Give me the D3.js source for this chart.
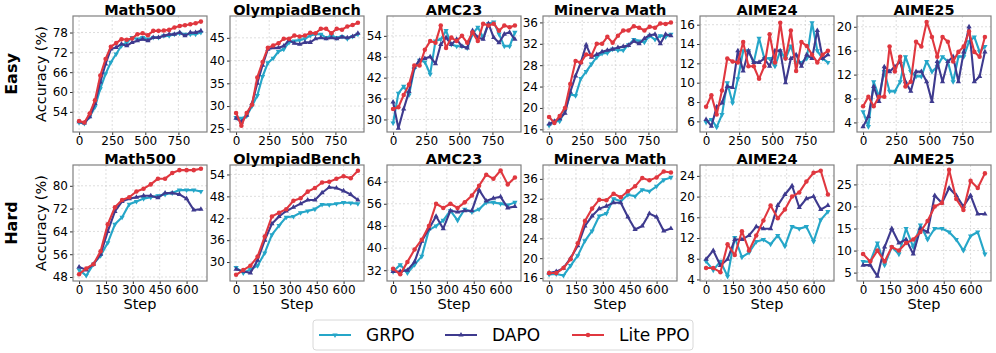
<!DOCTYPE html>
<html>
<head>
<meta charset="utf-8">
<script src="https://cdn.jsdelivr.net/npm/d3@7/dist/d3.min.js"></script>
<style>
  body { margin: 0; background: #fff; }
  text { font-family: "DejaVu Sans", sans-serif; }
</style>
</head>
<body>
<div id="chart"></div>
<script>
// categories / steps
var benchmarks = ["Math500", "OlympiadBench", "AMC23", "Minerva Math", "AIME24", "AIME25"];
var methods = ["GRPO", "DAPO", "Lite PPO"];
var rowNames = ["Easy", "Hard"];
var easySteps = [0,40,80,120,160,200,240,280,320,360,400,440,480,520,560,600,640,680,720,760,800,840,880,920];
var hardSteps = [0,40,80,120,160,200,240,280,320,360,400,440,480,520,560,600,640,680];
var easyXTicks = [0, 250, 500, 750];
var hardXTicks = [0, 150, 300, 450, 600];

// ---- Easy row ----
var easyMath500Grpo = [50.8,50.5,52.5,55.5,61,65.5,69,71.5,74,75,76.5,76,76.5,76,76.5,76.5,77,77,77.5,77.8,77.5,77.5,77.5,78];
var easyMath500Dapo = [51,50.6,52.5,56.5,63,68.5,73,73.5,74.5,74,75,75.5,76,75.5,76.5,76.5,77,77.5,77.5,78,77,78,78,78.5];
var easyMath500Lite = [51.2,50.8,53.5,57.5,65,70,73.7,74.8,76,75.8,76.2,77.5,77.8,77.2,78.5,78.5,78.6,78.8,79.5,80,80.2,80.5,80.8,81.3];
var easyMath500Ticks = [54, 60, 66, 72, 78];

var easyOlyGrpo = [27.5,27.3,27.8,30,32.3,36.5,39.5,40.5,42,42.5,44,44.3,44.5,44.8,45.5,45.8,45.8,45,45.5,45,45.3,44.8,45.3,45.8];
var easyOlyDapo = [27.3,26.5,28,30.5,35,39,42.5,42.8,42.8,43.2,44.5,43.8,43.6,44,44,44.8,45,44.8,45,44.8,45.2,45,45.3,46];
var easyOlyLite = [28.5,25.7,28.5,30.3,36.3,39.7,42.8,43.3,43.8,44.8,44.8,45.5,45.3,45.5,46.1,46,47,47,46,47,46.8,47.5,47.8,48.3];
var easyOlyTicks = [25, 30, 35, 40, 45];

var easyAmcGrpo = [29,37.5,39.5,37,44.5,47,46.5,43,52.5,53,55.5,51.5,51,51,50.5,54.5,56.5,53.5,57.5,58,54.5,51,51,55];
var easyAmcDapo = [35,27.5,33,38,45,47,47.5,48,46,51.5,53.5,51.5,53,51,50.5,55.5,53.5,53,57.5,53.5,52,54.5,55,53];
var easyAmcLite = [33,33.5,37,40,45.5,45.5,50,52.5,52,57,50.5,53.5,52.5,54,52,55,52.5,57.5,57,57.5,55.5,57,56.5,57];
var easyAmcTicks = [30, 36, 42, 48, 54];

var easyMinGrpo = [16.7,17.5,17.5,19.5,22.5,22.3,25.5,26.8,28.2,29.5,30.2,30.3,31,30.8,30.8,31.8,32.8,32.5,32.3,33.5,32.8,33.5,33.3,33.8];
var easyMinDapo = [17,17.5,18,19,23,26,28.5,31.8,29.5,30,30.5,30.8,31,31.3,31.5,31.7,32.5,32,33,33.6,33.8,32,33.8,33.5];
var easyMinLite = [18.3,17.2,18.5,20,24.5,28.8,28.5,30,29.8,32,32,33.3,32.2,33.5,34.5,34.5,35.3,35,34.5,35.2,35,35.8,35.7,36];
var easyMinTicks = [16, 20, 24, 28, 32, 36];

var easyA24Grpo = [5.9,6.2,5.4,6.7,10,7.9,10.4,13.3,13.3,12.1,14.6,12.5,12.5,11.7,13.3,12.5,13.8,12.1,12.1,12.5,16.2,13.3,12.5,12.1];
var easyA24Dapo = [6.2,5.5,7.5,7.9,9.6,9.5,13.3,11.2,13.3,12.1,12.1,12.5,11.7,13.3,13.3,10,12.5,12.9,11.7,12.9,12.5,15.4,12.5,12.9];
var easyA24Lite = [7.5,8.7,6.7,9.2,12.5,12.2,12.1,14.2,11.7,11.7,10.4,11.7,15,12.1,16.2,12.5,15.4,11.2,14.2,13.8,12.9,12.1,12.9,13.3];
var easyA24Ticks = [6, 8, 10, 12, 14, 16];

var easyA25Grpo = [5.8,3.3,10.8,8.3,12.5,9.2,9.2,10.8,15,12.5,11.7,11.7,14.2,12.5,13.3,15,14.2,10.8,15,15,17.5,18.3,15.8,16.7];
var easyA25Dapo = [3.3,5,10,7.5,13.3,12.5,13.3,14.2,10.8,9.2,12.5,12.5,10.8,7.5,14.2,10.8,14.2,15,10.8,15.8,20,10.8,11.7,15.8];
var easyA25Lite = [6.7,8.3,6.7,8.3,8.3,16.7,12.5,15,10,10.8,17.5,16.7,20.8,18.3,15,18.3,17.5,14.2,15.8,16.7,19.2,15.8,15,18.3];
var easyA25Ticks = [4, 8, 12, 16, 20];

// ---- Hard row ----
var hardMath500Grpo = [50.5,48.5,52.5,55.5,60,66.5,69,73.5,74.5,75.5,76,76.5,77,77.5,78.5,78.5,78.5,78];
var hardMath500Dapo = [51.5,50.5,52.5,56,64,71,74.5,75.5,76,76.5,76.5,75.8,77.5,77.5,77,75.5,71.5,71.8];
var hardMath500Lite = [49,51,52.5,57,66.5,72.5,75,76,78,79,80.5,82.5,82.5,84.5,85.5,85.5,85.5,86];
var hardMath500Ticks = [48, 56, 64, 72, 80];

var hardOlyGrpo = [28.5,27,28,29,32.5,37.5,40,42.3,42.5,43.5,44,44.5,45.8,45.7,46,46.3,46.2,46];
var hardOlyDapo = [28,27.5,27,30.5,36,40.5,42.5,44,45,46,47,47,49,50.5,50.3,49.5,48.5,47];
var hardOlyLite = [26.5,27.8,29,31.5,37,42.5,43.5,44.5,46.8,47.5,49.3,50.3,51.8,52,52.8,53.5,53,55];
var hardOlyTicks = [30, 36, 42, 48, 54];

var hardAmcGrpo = [31.5,34,31,34,37,46.5,48,50,53.5,50,54,53,54,56.5,56.5,56,55.5,56.5];
var hardAmcDapo = [31.5,31.5,32,35,42.5,47,51.5,47,53.5,53,53.5,53.5,61,57,58,58.5,54.5,55];
var hardAmcLite = [32.5,30.5,35,39.5,43,48,56,54.5,56,54.5,56.5,59,62.5,66.5,65,68,63,65.5];
var hardAmcTicks = [32, 40, 48, 56, 64];

var hardMinGrpo = [16.7,16.8,16.5,18.5,20.5,23.5,25.5,28.5,29,32,31.5,32.8,32.5,33.8,33.5,34.5,35.8,36.3];
var hardMinDapo = [17,17.3,18,20,22.5,26.5,28.5,30,30.5,31.2,31.2,28.3,25.8,26.5,29,28.3,25.5,26];
var hardMinLite = [17,17,18,19.8,23,27.5,30,31.8,31.7,33,32.3,33.5,34.5,36.2,35.7,36.3,37.5,37.3];
var hardMinTicks = [16, 20, 24, 28, 32, 36];

var hardA24Grpo = [7.5,5.8,7.5,4.6,12.1,8.3,9.2,11.3,11.7,10.8,12.5,10.4,14.2,13.8,14.2,11.3,15.5,17.1];
var hardA24Dapo = [7.9,9.6,6.7,7.9,11.7,11.7,12.5,14.2,13.8,13.8,18.3,20.4,22.1,17.9,19.6,20,17.5,18.3];
var hardA24Lite = [6.2,6.2,5.4,10.8,8.7,13.3,9.6,12.5,15.4,18.3,15.8,17.5,20,20.8,22.9,24.6,25,20.4];
var hardA24Ticks = [4, 8, 12, 16, 20, 24];

var hardA25Grpo = [7.5,7.5,11.7,6.7,10.8,9.2,15,10.8,15.8,12.5,15,15,14.2,12.5,10,13.3,14.2,9.2];
var hardA25Dapo = [6.7,6.7,4.2,10.8,15,11.7,12.5,9.2,15,14.2,22.5,20.8,24.2,22.5,20,22.5,18.3,18.3];
var hardA25Lite = [9.2,7.5,10,7.5,10.8,10,11.7,12.5,14.2,16.7,20,20.8,28.3,21.7,19.2,25.8,24.2,27.5];
var hardA25Ticks = [5, 10, 15, 20, 25];

// panel table built from the arrays above
var panels = [
  {row:0, col:0, series:[easyMath500Grpo, easyMath500Dapo, easyMath500Lite], ticks:easyMath500Ticks, ydom:[47.9, 83]},
  {row:0, col:1, series:[easyOlyGrpo, easyOlyDapo, easyOlyLite], ticks:easyOlyTicks, ydom:[24.3, 49.8]},
  {row:0, col:2, series:[easyAmcGrpo, easyAmcDapo, easyAmcLite], ticks:easyAmcTicks, ydom:[26.4, 59.7]},
  {row:0, col:3, series:[easyMinGrpo, easyMinDapo, easyMinLite], ticks:easyMinTicks, ydom:[15.5, 37.2]},
  {row:0, col:4, series:[easyA24Grpo, easyA24Dapo, easyA24Lite], ticks:easyA24Ticks, ydom:[4.9, 16.9]},
  {row:0, col:5, series:[easyA25Grpo, easyA25Dapo, easyA25Lite], ticks:easyA25Ticks, ydom:[2.4, 21.8]},
  {row:1, col:0, series:[hardMath500Grpo, hardMath500Dapo, hardMath500Lite], ticks:hardMath500Ticks, ydom:[46.6, 87.3]},
  {row:1, col:1, series:[hardOlyGrpo, hardOlyDapo, hardOlyLite], ticks:hardOlyTicks, ydom:[24.8, 56.6]},
  {row:1, col:2, series:[hardAmcGrpo, hardAmcDapo, hardAmcLite], ticks:hardAmcTicks, ydom:[28.1, 70]},
  {row:1, col:3, series:[hardMinGrpo, hardMinDapo, hardMinLite], ticks:hardMinTicks, ydom:[15.4, 38.8]},
  {row:1, col:4, series:[hardA24Grpo, hardA24Dapo, hardA24Lite], ticks:hardA24Ticks, ydom:[3.7, 26.1]},
  {row:1, col:5, series:[hardA25Grpo, hardA25Dapo, hardA25Lite], ticks:hardA25Ticks, ydom:[3.1, 29.4]}
];

var colors = ["#25a6c8", "#3e3a8e", "#e0373f"];
var width = 996, height = 353;
var lefts = [73, 230, 387, 543, 700, 857];
var tops = [16, 165];
var pw = 134, ph = 116;

var svg = d3.select("#chart").append("svg")
  .attr("width", width).attr("height", height);
svg.append("rect").attr("width", width).attr("height", height).attr("fill", "#fff");

function marker(i) {
  if (i == 2) return d3.symbol().type(d3.symbolCircle).size(16);
  return d3.symbol().type(d3.symbolTriangle).size(12);
}

panels.forEach(function(p) {
  var steps = p.row == 0 ? easySteps : hardSteps;
  var xt = p.row == 0 ? easyXTicks : hardXTicks;
  var xmax = steps[steps.length - 1];
  var x = d3.scaleLinear().domain([-0.05 * xmax, 1.05 * xmax]).range([0, pw]);
  var y = d3.scaleLinear().domain(p.ydom).range([ph, 0]);

  var g = svg.append("g")
    .attr("transform", "translate(" + lefts[p.col] + "," + tops[p.row] + ")");

  // grid
  g.append("g").selectAll("line").data(xt).enter().append("line")
    .attr("x1", function(d) { return x(d); }).attr("x2", function(d) { return x(d); })
    .attr("y1", 0).attr("y2", ph)
    .attr("stroke", "#d0d0d0").attr("stroke-width", 0.7).attr("stroke-dasharray", "2,2");
  g.append("g").selectAll("line").data(p.ticks).enter().append("line")
    .attr("y1", function(d) { return y(d); }).attr("y2", function(d) { return y(d); })
    .attr("x1", 0).attr("x2", pw)
    .attr("stroke", "#d0d0d0").attr("stroke-width", 0.7).attr("stroke-dasharray", "2,2");

  // axes
  var ax = g.append("g").attr("transform", "translate(0," + ph + ")")
    .call(d3.axisBottom(x).tickValues(xt).tickSize(3).tickPadding(1.5));
  var ay = g.append("g")
    .call(d3.axisLeft(y).tickValues(p.ticks).tickSize(3).tickPadding(2));
  [ax, ay].forEach(function(a) {
    a.select(".domain").remove();
    a.selectAll("line").attr("stroke", "#333");
    a.selectAll("text").attr("font-size", "12px").attr("fill", "#000")
      .attr("font-family", "DejaVu Sans, sans-serif");
  });

  // lines + markers
  p.series.forEach(function(vals, i) {
    var pts = steps.map(function(s, k) { return [s, vals[k]]; });
    g.append("path").datum(pts)
      .attr("fill", "none").attr("stroke", colors[i]).attr("stroke-width", 2.1)
      .attr("stroke-linejoin", "round")
      .attr("d", d3.line().x(function(d) { return x(d[0]); }).y(function(d) { return y(d[1]); }));
    g.append("g").selectAll("path").data(pts).enter().append("path")
      .attr("d", marker(i))
      .attr("fill", colors[i])
      .attr("transform", function(d) {
        return "translate(" + x(d[0]) + "," + y(d[1]) + ")" + (i == 0 ? " rotate(180)" : "");
      });
  });

  // frame
  g.append("rect").attr("width", pw).attr("height", ph)
    .attr("fill", "none").attr("stroke", "#808080").attr("stroke-width", 1.2);

  // title
  g.append("text").attr("x", pw / 2).attr("y", -1.5)
    .attr("text-anchor", "middle").attr("font-size", "14.5px").attr("font-weight", "bold")
    .text(benchmarks[p.col]);

  if (p.col == 0) {
    g.append("text")
      .attr("transform", "translate(-27," + (ph / 2) + ") rotate(-90)")
      .attr("text-anchor", "middle").attr("font-size", "14.5px")
      .text("Accuracy (%)");
    g.append("text")
      .attr("transform", "translate(-56," + (ph / 2) + ") rotate(-90)")
      .attr("text-anchor", "middle").attr("font-size", "16px").attr("font-weight", "bold")
      .text(rowNames[p.row]);
  }
  if (p.row == 1) {
    g.append("text").attr("x", pw / 2).attr("y", ph + 27.5)
      .attr("text-anchor", "middle").attr("font-size", "14.5px")
      .text("Step");
  }
});

// legend
var lg = svg.append("g").attr("transform", "translate(313,320)");
lg.append("rect").attr("width", 380).attr("height", 30).attr("rx", 3)
  .attr("fill", "#fff").attr("stroke", "#d8d8d8");
var lx = [6, 132, 259];
methods.forEach(function(m, i) {
  var e = lg.append("g").attr("transform", "translate(" + lx[i] + ",15)");
  e.append("line").attr("x1", 0).attr("x2", 32).attr("stroke", colors[i]).attr("stroke-width", 2);
  e.append("path").attr("d", marker(i)).attr("fill", colors[i])
    .attr("transform", "translate(16,0)" + (i == 0 ? " rotate(180)" : ""));
  e.append("text").attr("x", 47).attr("y", 6).attr("font-size", "17px").text(m);
});
</script>
</body>
</html>
